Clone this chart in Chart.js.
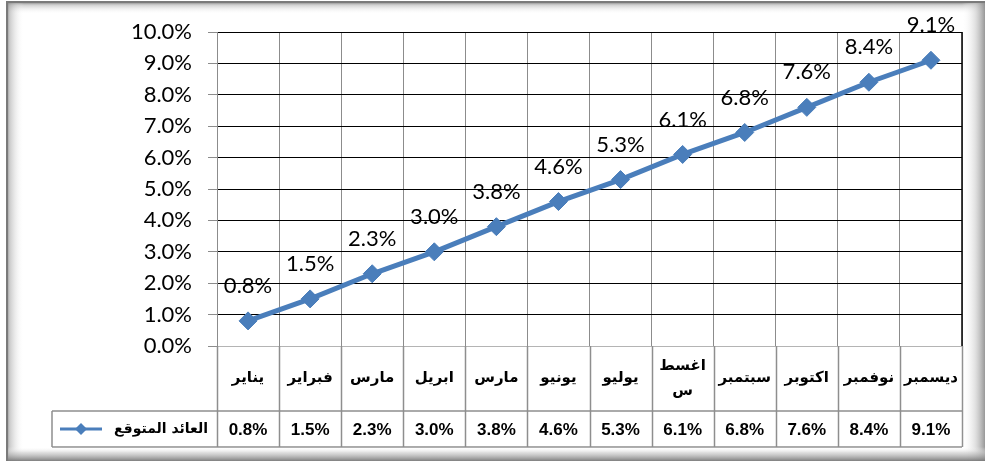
<!DOCTYPE html>
<html><head><meta charset="utf-8">
<script src="https://cdn.jsdelivr.net/npm/chart.js@4"></script>
<style>html,body{margin:0;padding:0;background:#fff}#wrap{width:985px;height:461px;position:relative}</style>
</head><body><div id="wrap"><canvas id="c" width="985" height="461"></canvas></div>
<script>
const categories = ['يناير','فبراير','مارس','ابريل','مارس','يونيو','يوليو',['اغسط','س'],'سبتمبر','اكتوبر','نوفمبر','ديسمبر'];
const expectedReturn = [0.8,1.5,2.3,3.0,3.8,4.6,5.3,6.1,6.8,7.6,8.4,9.1];
const yTickValues = [0,1,2,3,4,5,6,7,8,9,10];
const seriesName = 'العائد المتوقع';

const LINE_COLOR = '#4a7ebb';
const TABLE_LINE = '#8e8e8e';
const pct = v => v.toFixed(1) + '%';

const bgPlugin = {
  id: 'bg',
  beforeDraw(chart) {
    const c = chart.ctx;
    c.save(); c.fillStyle = '#fff'; c.fillRect(0, 0, chart.width, chart.height); c.restore();
  }
};

const dataLabels = {
  id: 'dataLabels',
  afterDatasetsDraw(chart) {
    const c = chart.ctx;
    const meta = chart.getDatasetMeta(0);
    c.save();
    c.font = '22px Lato';
    c.fillStyle = '#000';
    c.textAlign = 'center';
    c.textBaseline = 'middle';
    meta.data.forEach((el, i) => {
      c.fillText(pct(expectedReturn[i]), el.x, el.y - 35);
    });
    c.restore();
  }
};

const tablePlugin = {
  id: 'table',
  afterDraw(chart) {
    const c = chart.ctx;
    const xs = chart.scales.x;
    const a = chart.chartArea;
    const half = (xs.getPixelForValue(1) - xs.getPixelForValue(0)) / 2;
    const rowTop = a.bottom, rowMid = a.bottom + 65, rowBot = a.bottom + 101;
    const legendLeft = 52;
    c.save();
    // plot right border
    c.strokeStyle = '#000'; c.lineWidth = 1.5;
    c.beginPath(); c.moveTo(a.right, a.top); c.lineTo(a.right, a.bottom); c.stroke();
    // table lines
    c.strokeStyle = TABLE_LINE; c.lineWidth = 1.5;
    c.beginPath();
    for (let i = 0; i <= categories.length; i++) {
      const x = Math.round(xs.getPixelForValue(Math.min(i, categories.length - 1)) + (i === categories.length ? half : -half)) + 0.5;
      c.moveTo(x, rowTop); c.lineTo(x, rowBot);
    }
    c.moveTo(legendLeft, rowMid); c.lineTo(a.right, rowMid);
    c.moveTo(legendLeft, rowBot); c.lineTo(a.right, rowBot);
    c.moveTo(legendLeft, rowMid); c.lineTo(legendLeft, rowBot);
    c.stroke();
    // category labels
    c.fillStyle = '#000';
    c.textAlign = 'center';
    c.textBaseline = 'middle';
    c.direction = 'rtl';
    c.font = 'bold 15px "DejaVu Sans"';
    const catMid = (rowTop + rowMid) / 2;
    categories.forEach((lab, i) => {
      const x = xs.getPixelForValue(i);
      const lines = Array.isArray(lab) ? lab : [lab];
      const lh = 25;
      lines.forEach((ln, j) => {
        c.fillText(ln, x, catMid + (j - (lines.length - 1) / 2) * lh);
      });
    });
    // values row
    const valMid = (rowMid + rowBot) / 2;
    c.direction = 'ltr';
    c.font = 'bold 17px "Liberation Sans"';
    expectedReturn.forEach((v, i) => {
      c.fillText(pct(v), xs.getPixelForValue(i), valMid + 1);
    });
    // legend cell
    const legRight = a.left - 9;
    c.textAlign = 'right';
    c.font = 'bold 14px "DejaVu Sans"';
    c.fillText(seriesName, legRight, valMid);
    // legend marker
    const lx1 = 60, lx2 = 102, ly = valMid;
    c.strokeStyle = LINE_COLOR; c.lineWidth = 3;
    c.beginPath(); c.moveTo(lx1, ly); c.lineTo(lx2, ly); c.stroke();
    c.fillStyle = LINE_COLOR;
    const cx = (lx1 + lx2) / 2, r = 6;
    c.beginPath(); c.moveTo(cx, ly - r); c.lineTo(cx + r, ly); c.lineTo(cx, ly + r); c.lineTo(cx - r, ly); c.closePath(); c.fill();
    c.restore();
  }
};

const framePlugin = {
  id: 'frame',
  afterDraw(chart) {
    const c = chart.ctx, W = chart.width, H = chart.height;
    c.save();
    let g;
    // top
    g = c.createLinearGradient(0, 2, 0, 14);
    g.addColorStop(0, 'rgba(110,110,110,0.9)'); g.addColorStop(0.25, 'rgba(150,150,150,0.45)'); g.addColorStop(1, 'rgba(255,255,255,0)');
    c.fillStyle = g; c.fillRect(6, 2, W - 6, 12);
    // left
    g = c.createLinearGradient(6, 0, 24, 0);
    g.addColorStop(0, 'rgba(110,110,110,0.95)'); g.addColorStop(0.2, 'rgba(150,150,150,0.5)'); g.addColorStop(1, 'rgba(255,255,255,0)');
    c.fillStyle = g; c.fillRect(6, 2, 18, H - 2);
    // right
    g = c.createLinearGradient(962, 0, W, 0);
    g.addColorStop(0, 'rgba(255,255,255,0)'); g.addColorStop(0.6, 'rgba(200,200,200,0.6)'); g.addColorStop(1, 'rgba(140,140,140,0.9)');
    c.fillStyle = g; c.fillRect(962, 2, W - 962, H - 2);
    // bottom
    g = c.createLinearGradient(0, 447, 0, H);
    g.addColorStop(0, 'rgba(255,255,255,0)'); g.addColorStop(0.4, 'rgba(200,200,200,0.6)'); g.addColorStop(1, 'rgba(120,120,120,0.95)');
    c.fillStyle = g; c.fillRect(6, 447, W - 6, H - 447);
    // dark outer lines
    c.fillStyle = '#7a7a7a';
    c.fillRect(6, 1, W - 6, 2);
    c.fillRect(6, 1, 2, H - 1);
    c.restore();
  }
};

new Chart(document.getElementById('c'), {
  type: 'line',
  data: {
    labels: categories,
    datasets: [{
      label: seriesName,
      data: expectedReturn,
      borderColor: LINE_COLOR,
      backgroundColor: LINE_COLOR,
      borderWidth: 5,
      pointStyle: 'rectRot',
      pointRadius: 9,
      pointHoverRadius: 9,
      pointBorderWidth: 1,
      tension: 0,
      clip: false
    }]
  },
  options: {
    responsive: false,
    animation: false,
    events: [],
    layout: { padding: { left: 0, top: 32, right: 23, bottom: 14 } },
    plugins: { legend: { display: false }, tooltip: { enabled: false } },
    scales: {
      x: {
        type: 'category',
        offset: true,
        grid: { offset: true, color: '#8c8c8c', lineWidth: 1, drawTicks: false },
        border: { color: '#b4b4b4' },
        ticks: { display: false },
        afterFit(s) { s.height = 101; }
      },
      y: {
        min: 0, max: 10,
        afterBuildTicks(s) { s.ticks = yTickValues.map(v => ({ value: v })); },
        grid: {
          color: ctx => (ctx.tick && ctx.tick.value === 0) ? '#b4b4b4' : '#000',
          tickColor: '#8c8c8c', tickLength: 9, lineWidth: 1
        },
        border: { color: '#8c8c8c' },
        ticks: { font: { family: 'Lato', size: 22 }, color: '#000', padding: 16, callback: v => pct(v) },
        afterFit(s) { s.width = 217; }
      }
    }
  },
  plugins: [bgPlugin, dataLabels, tablePlugin, framePlugin]
});
</script>
</body></html>
